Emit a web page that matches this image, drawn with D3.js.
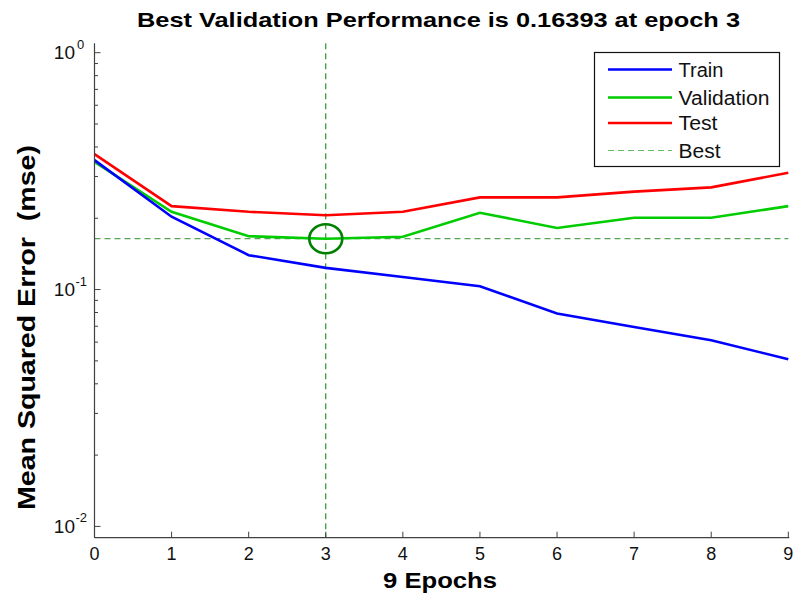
<!DOCTYPE html>
<html>
<head>
<meta charset="utf-8">
<script src="https://cdn.jsdelivr.net/npm/d3@7"></script>
<style>
  body { margin: 0; background: #fff; }
  text { font-family: "Liberation Sans", Arial, sans-serif; }
</style>
</head>
<body>
<svg id="chart" width="797" height="596"></svg>
<script>
const epochs = [0, 1, 2, 3, 4, 5, 6, 7, 8, 9];
const train = [0.352, 0.203, 0.1397, 0.1235, 0.113, 0.1033, 0.0793, 0.0695, 0.0611, 0.0508];
const validation = [0.346, 0.213, 0.168, 0.16393, 0.167, 0.211, 0.182, 0.201, 0.201, 0.225];
const test = [0.373, 0.225, 0.213, 0.206, 0.213, 0.245, 0.245, 0.259, 0.270, 0.311];
const bestEpoch = 3;
const bestValue = 0.16393;
const yTicks = [0, -1, -2];
const seriesNames = ['Train', 'Validation', 'Test', 'Best'];

const svg = d3.select('#chart');

const x = d3.scaleLinear().domain([0, 9]).range([94.5, 788.3]);
const y = d3.scaleLog().domain([0.01, 1]).range([526.4, 52.7]);
const plotTop = 43.3, plotBottom = 537.7;

// minor ticks on the log axis
const minor = [];
[0.01, 0.1].forEach(d => { for (let k = 2; k <= 9; k++) minor.push(d * k); });

const axisColor = '#404040';

// reference lines
svg.append('line')
  .attr('x1', x(bestEpoch)).attr('x2', x(bestEpoch))
  .attr('y1', plotTop).attr('y2', plotBottom)
  .attr('stroke', '#008000').attr('stroke-width', 1).attr('stroke-dasharray', '6,4');
svg.append('line')
  .attr('x1', x(0)).attr('x2', x(9))
  .attr('y1', y(bestValue)).attr('y2', y(bestValue))
  .attr('stroke', '#2e8b2e').attr('stroke-width', 1).attr('stroke-dasharray', '6,4');

const line = d3.line().x((d, i) => x(epochs[i])).y(d => y(d));
[[test, '#ff0000'], [validation, '#00cc00'], [train, '#0000ff']].forEach(([s, c]) => {
  svg.append('path').datum(s)
    .attr('d', line)
    .attr('fill', 'none')
    .attr('stroke', c)
    .attr('stroke-width', 2.6);
});

svg.append('ellipse')
  .attr('cx', x(bestEpoch)).attr('cy', y(bestValue))
  .attr('rx', 16.5).attr('ry', 14.5)
  .attr('fill', 'none').attr('stroke', '#008000').attr('stroke-width', 2.6);

// axes
const gx = svg.append('g');
gx.append('line')
  .attr('x1', x(0)).attr('x2', x(9) + 1)
  .attr('y1', plotBottom).attr('y2', plotBottom)
  .attr('stroke', axisColor).attr('stroke-width', 1.2);
gx.selectAll('.xt').data(epochs).enter().append('line')
  .attr('x1', d => x(d)).attr('x2', d => x(d))
  .attr('y1', plotBottom).attr('y2', plotBottom - 6)
  .attr('stroke', axisColor);
gx.selectAll('.xl').data(epochs).enter().append('text')
  .attr('x', d => x(d)).attr('y', plotBottom + 22.5)
  .attr('text-anchor', 'middle')
  .attr('font-size', 18)
  .attr('fill', '#111')
  .text(d => d);

const gy = svg.append('g');
gy.append('line')
  .attr('x1', x(0)).attr('x2', x(0))
  .attr('y1', plotTop).attr('y2', plotBottom)
  .attr('stroke', axisColor).attr('stroke-width', 1.2);
gy.selectAll('.ym').data(yTicks).enter().append('line')
  .attr('x1', x(0)).attr('x2', x(0) + 6)
  .attr('y1', d => y(Math.pow(10, d))).attr('y2', d => y(Math.pow(10, d)))
  .attr('stroke', axisColor);
gy.selectAll('.yn').data(minor).enter().append('line')
  .attr('x1', x(0)).attr('x2', x(0) + 3.5)
  .attr('y1', d => y(d)).attr('y2', d => y(d))
  .attr('stroke', axisColor);
gy.selectAll('.yl').data(yTicks).enter().append('text')
  .attr('x', 75).attr('y', d => y(Math.pow(10, d)) + 6.5)
  .attr('text-anchor', 'end')
  .attr('font-size', 19)
  .attr('fill', '#111')
  .text('10');
gy.selectAll('.ye').data(yTicks).enter().append('text')
  .attr('x', d => d < 0 ? 75.5 : 77).attr('y', d => y(Math.pow(10, d)) - 4)
  .attr('font-size', 13)
  .attr('fill', '#111')
  .text(d => d);

// titles
svg.append('text')
  .attr('x', 137).attr('y', 27)
  .attr('font-size', 21).attr('font-weight', 'bold')
  .attr('textLength', 603).attr('lengthAdjust', 'spacingAndGlyphs')
  .text('Best Validation Performance is 0.16393 at epoch 3');
svg.append('text')
  .attr('x', 383).attr('y', 588)
  .attr('font-size', 22).attr('font-weight', 'bold')
  .attr('textLength', 114).attr('lengthAdjust', 'spacingAndGlyphs')
  .text('9 Epochs');
svg.append('text')
  .attr('transform', 'translate(35,510) rotate(-90)')
  .attr('font-size', 23).attr('font-weight', 'bold')
  .attr('textLength', 365).attr('lengthAdjust', 'spacingAndGlyphs')
  .attr('xml:space', 'preserve')
  .text('Mean Squared Error  (mse)');

// legend
const lg = svg.append('g');
lg.append('rect')
  .attr('x', 594.5).attr('y', 52.5).attr('width', 185).attr('height', 114)
  .attr('fill', '#fff').attr('stroke', '#111').attr('stroke-width', 1.2);
const legendColors = ['#0000ff', '#00cc00', '#ff0000', '#66bb66'];
const rowY = [69.5, 97.5, 123, 150.5];
const legendWidths = [45, 91, 39, 42];
seriesNames.forEach((n, i) => {
  lg.append('line')
    .attr('x1', 608).attr('x2', 672)
    .attr('y1', rowY[i]).attr('y2', rowY[i])
    .attr('stroke', legendColors[i])
    .attr('stroke-width', i === 3 ? 1.2 : 2.6)
    .attr('stroke-dasharray', i === 3 ? '6,4' : null);
  lg.append('text')
    .attr('x', 678.5).attr('y', rowY[i] + 7)
    .attr('font-size', 19.5)
    .attr('fill', '#111')
    .attr('textLength', legendWidths[i]).attr('lengthAdjust', 'spacingAndGlyphs')
    .text(n);
});
</script>
</body>
</html>
